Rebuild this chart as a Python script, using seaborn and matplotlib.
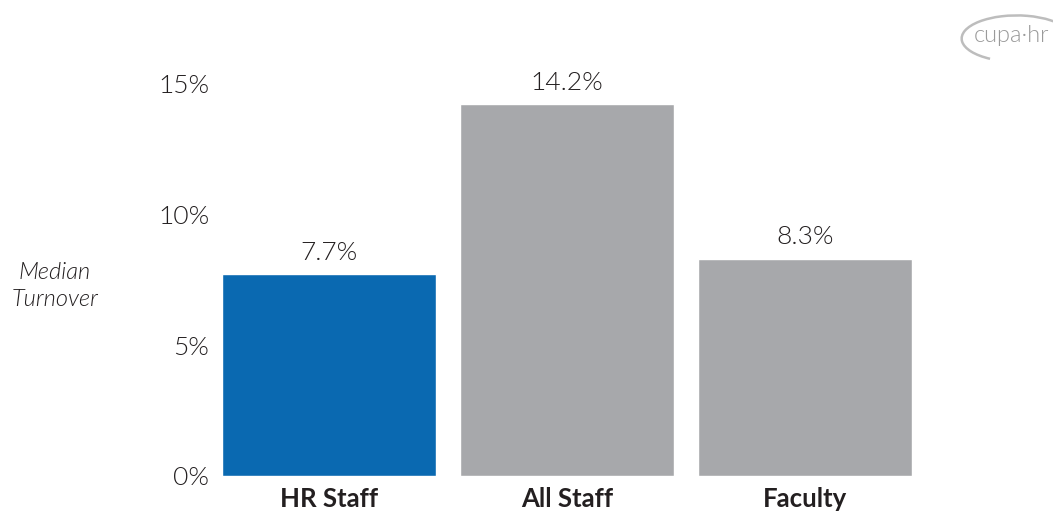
import matplotlib
matplotlib.use("Agg")
import matplotlib.pyplot as plt
import seaborn as sns
import pandas as pd
from matplotlib.patches import Arc

categories = ["HR Staff", "All Staff", "Faculty"]
values = [7.7, 14.2, 8.3]
value_labels = ["7.7%", "14.2%", "8.3%"]
yticks = [0, 5, 10, 15]
ytick_labels = ["0%", "5%", "10%", "15%"]

sns.set_theme(style="white")
plt.rcParams['font.family'] = ['Lato', 'DejaVu Sans']
text_color = "#231F20"

df = pd.DataFrame({"cat": categories, "val": values})
colors = ["#0A69B1", "#A7A8AB", "#A7A8AB"]

fig = plt.figure(figsize=(10.53, 5.14), dpi=100)
ax = fig.add_axes([0.2, 0.074, 0.677, 0.815])
sns.barplot(data=df, x="cat", y="val", hue="cat", palette=colors, width=0.9,
            saturation=1, legend=False, ax=ax)
ax.set_ylim(0, 16)
ax.set_xlim(-0.5, 2.5)
ax.set_yticks(yticks)
ax.set_yticklabels(ytick_labels, fontsize=19, fontweight=300, color=text_color)
ax.set_xticks(range(len(categories)))
ax.set_xticklabels(categories, fontsize=18.5, fontweight="bold", color=text_color)
ax.tick_params(axis="y", length=0, pad=1)
ax.tick_params(axis="x", length=0, pad=8)
ax.set_xlabel("")
ax.set_ylabel("")
for s in ax.spines.values():
    s.set_visible(False)
for i, (v, lab) in enumerate(zip(values, value_labels)):
    ax.text(i, v + 0.35, lab, ha="center", va="bottom", fontsize=19,
            fontweight=300, color=text_color)

fig.text(0.052, 0.443, "Median\nTurnover", ha="center", va="center", fontsize=17,
         style="italic", fontweight=300, color=text_color, linespacing=1.35)

# logo
fig.text(0.961, 0.93, "cupa·hr", ha="center", va="center", fontsize=17,
         color="#9A9A9A", fontweight=300)
lax = fig.add_axes([0.905, 0.865, 0.11, 0.12])
lax.set_xlim(0, 1); lax.set_ylim(0, 1); lax.axis("off")
lax.add_patch(Arc((0.55, 0.5), 0.95, 0.75, theta1=20, theta2=235, color="#BDBDBD", lw=1.8))

fig.savefig("out.png", dpi=100)
